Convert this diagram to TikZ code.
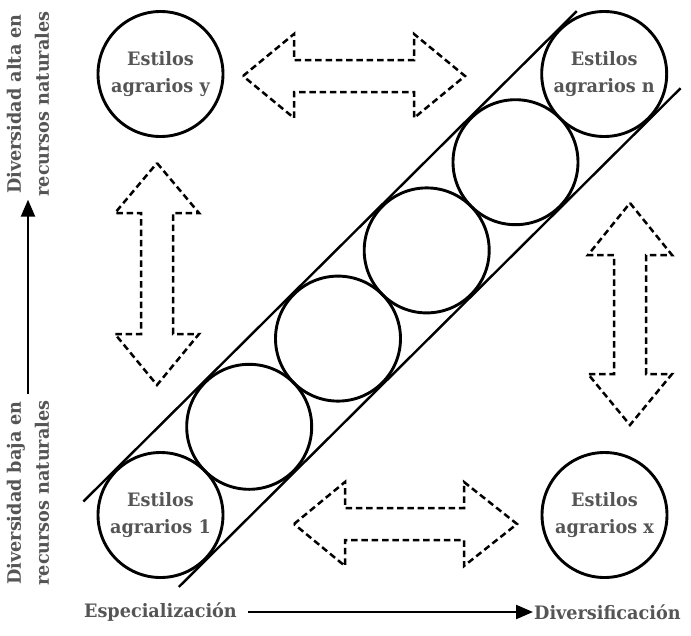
\documentclass[tikz,border=0pt]{standalone}
\usepackage{fontspec}
\setmainfont{DejaVu Serif Condensed}[FakeStretch=1.06]
\usetikzlibrary{calc,arrows.meta}

\definecolor{textgris}{RGB}{85,85,85}

\tikzset{every picture/.style={line width=2.4pt}}
\tikzset{
  estilo/.style={circle, draw, line width=2.9pt, minimum size=125pt, inner sep=0pt,
    align=center, text=textgris, font=\bfseries\fontsize{18.5}{27}\selectfont},
  flecha/.style={line width=2.5pt, dash pattern=on 6.5pt off 3.8pt, line join=miter},
  etiqueta/.style={text=textgris, inner sep=0pt, align=center, font=\bfseries\fontsize{18.5}{28}\selectfont},
  eje/.style={line width=2.4pt, -{Triangle[length=17pt,width=14pt]}}
}

\begin{document}
\begin{tikzpicture}[x=1pt,y=1pt,yscale=-1,xscale=1]
    \useasboundingbox (0,0) rectangle (691,635);

    %Shape: Circles along the diagonal
    \node [estilo] (est1) at (160.5,515) {Estilos\\agrarios 1};
    \node [estilo] (est2) at (249.2,426.8) {};
    \node [estilo] (est3) at (338,338.6) {};
    \node [estilo] (est4) at (426.7,250.4) {};
    \node [estilo] (est5) at (515.5,162.2) {};
    \node [estilo] (estn) at (604.2,74) {Estilos\\agrarios n};

    %Shape: Corner circles
    \node [estilo] (esty) at (160.5,74) {Estilos\\agrarios y};
    \node [estilo] (estx) at (604.5,515) {Estilos\\agrarios x};

    %Straight Lines: band round the diagonal
    \draw ($(est1.135)!-45pt!(estn.135)$) -- ($(estn.135)!-25pt!(est1.135)$);
    \draw ($(est1.-45)!-38pt!(estn.-45)$) -- ($(estn.-45)!-44pt!(est1.-45)$);

    %Shape: Double Arrow (top)
    \draw [flecha] (243,76) -- (294,34) -- (294,60) -- (414,60) -- (414,34) -- (465,76) -- (414,118) -- (414,92) -- (294,92) -- (294,118) -- cycle ;
    %Shape: Double Arrow (bottom)
    \draw [flecha] (294,524) -- (345,482) -- (345,508) -- (464,508) -- (464,482) -- (517,524) -- (464,566) -- (464,540) -- (345,540) -- (345,566) -- cycle ;
    %Shape: Double Arrow (left)
    \draw [flecha] (157,163) -- (199,213) -- (173,213) -- (173,334) -- (199,334) -- (157,385) -- (115,334) -- (141,334) -- (141,213) -- (115,213) -- cycle ;
    %Shape: Double Arrow (right)
    \draw [flecha] (630,203) -- (672,255) -- (646,255) -- (646,374) -- (672,374) -- (630,425) -- (588,374) -- (614,374) -- (614,255) -- (588,255) -- cycle ;

    % Text Node
    \node [etiqueta, rotate=90] (altadiv) at (28,104) {Diversidad alta en\\recursos naturales};
    % Text Node
    \node [etiqueta, rotate=90] (bajadiv) at (28,493) {Diversidad baja en\\recursos naturales};
    % Text Node
    \node [etiqueta, anchor=east] (espec) at (238,612) {Especialización};
    % Text Node
    \node [etiqueta, anchor=west] (diver) at (533,612) {Diversificación};

    %Straight Lines: axes
    \draw [eje, shorten <=5pt, shorten >=2pt] (bajadiv) -- (altadiv);
    \draw [eje, shorten <=10pt] (espec) -- (diver);

\end{tikzpicture}
\end{document}
